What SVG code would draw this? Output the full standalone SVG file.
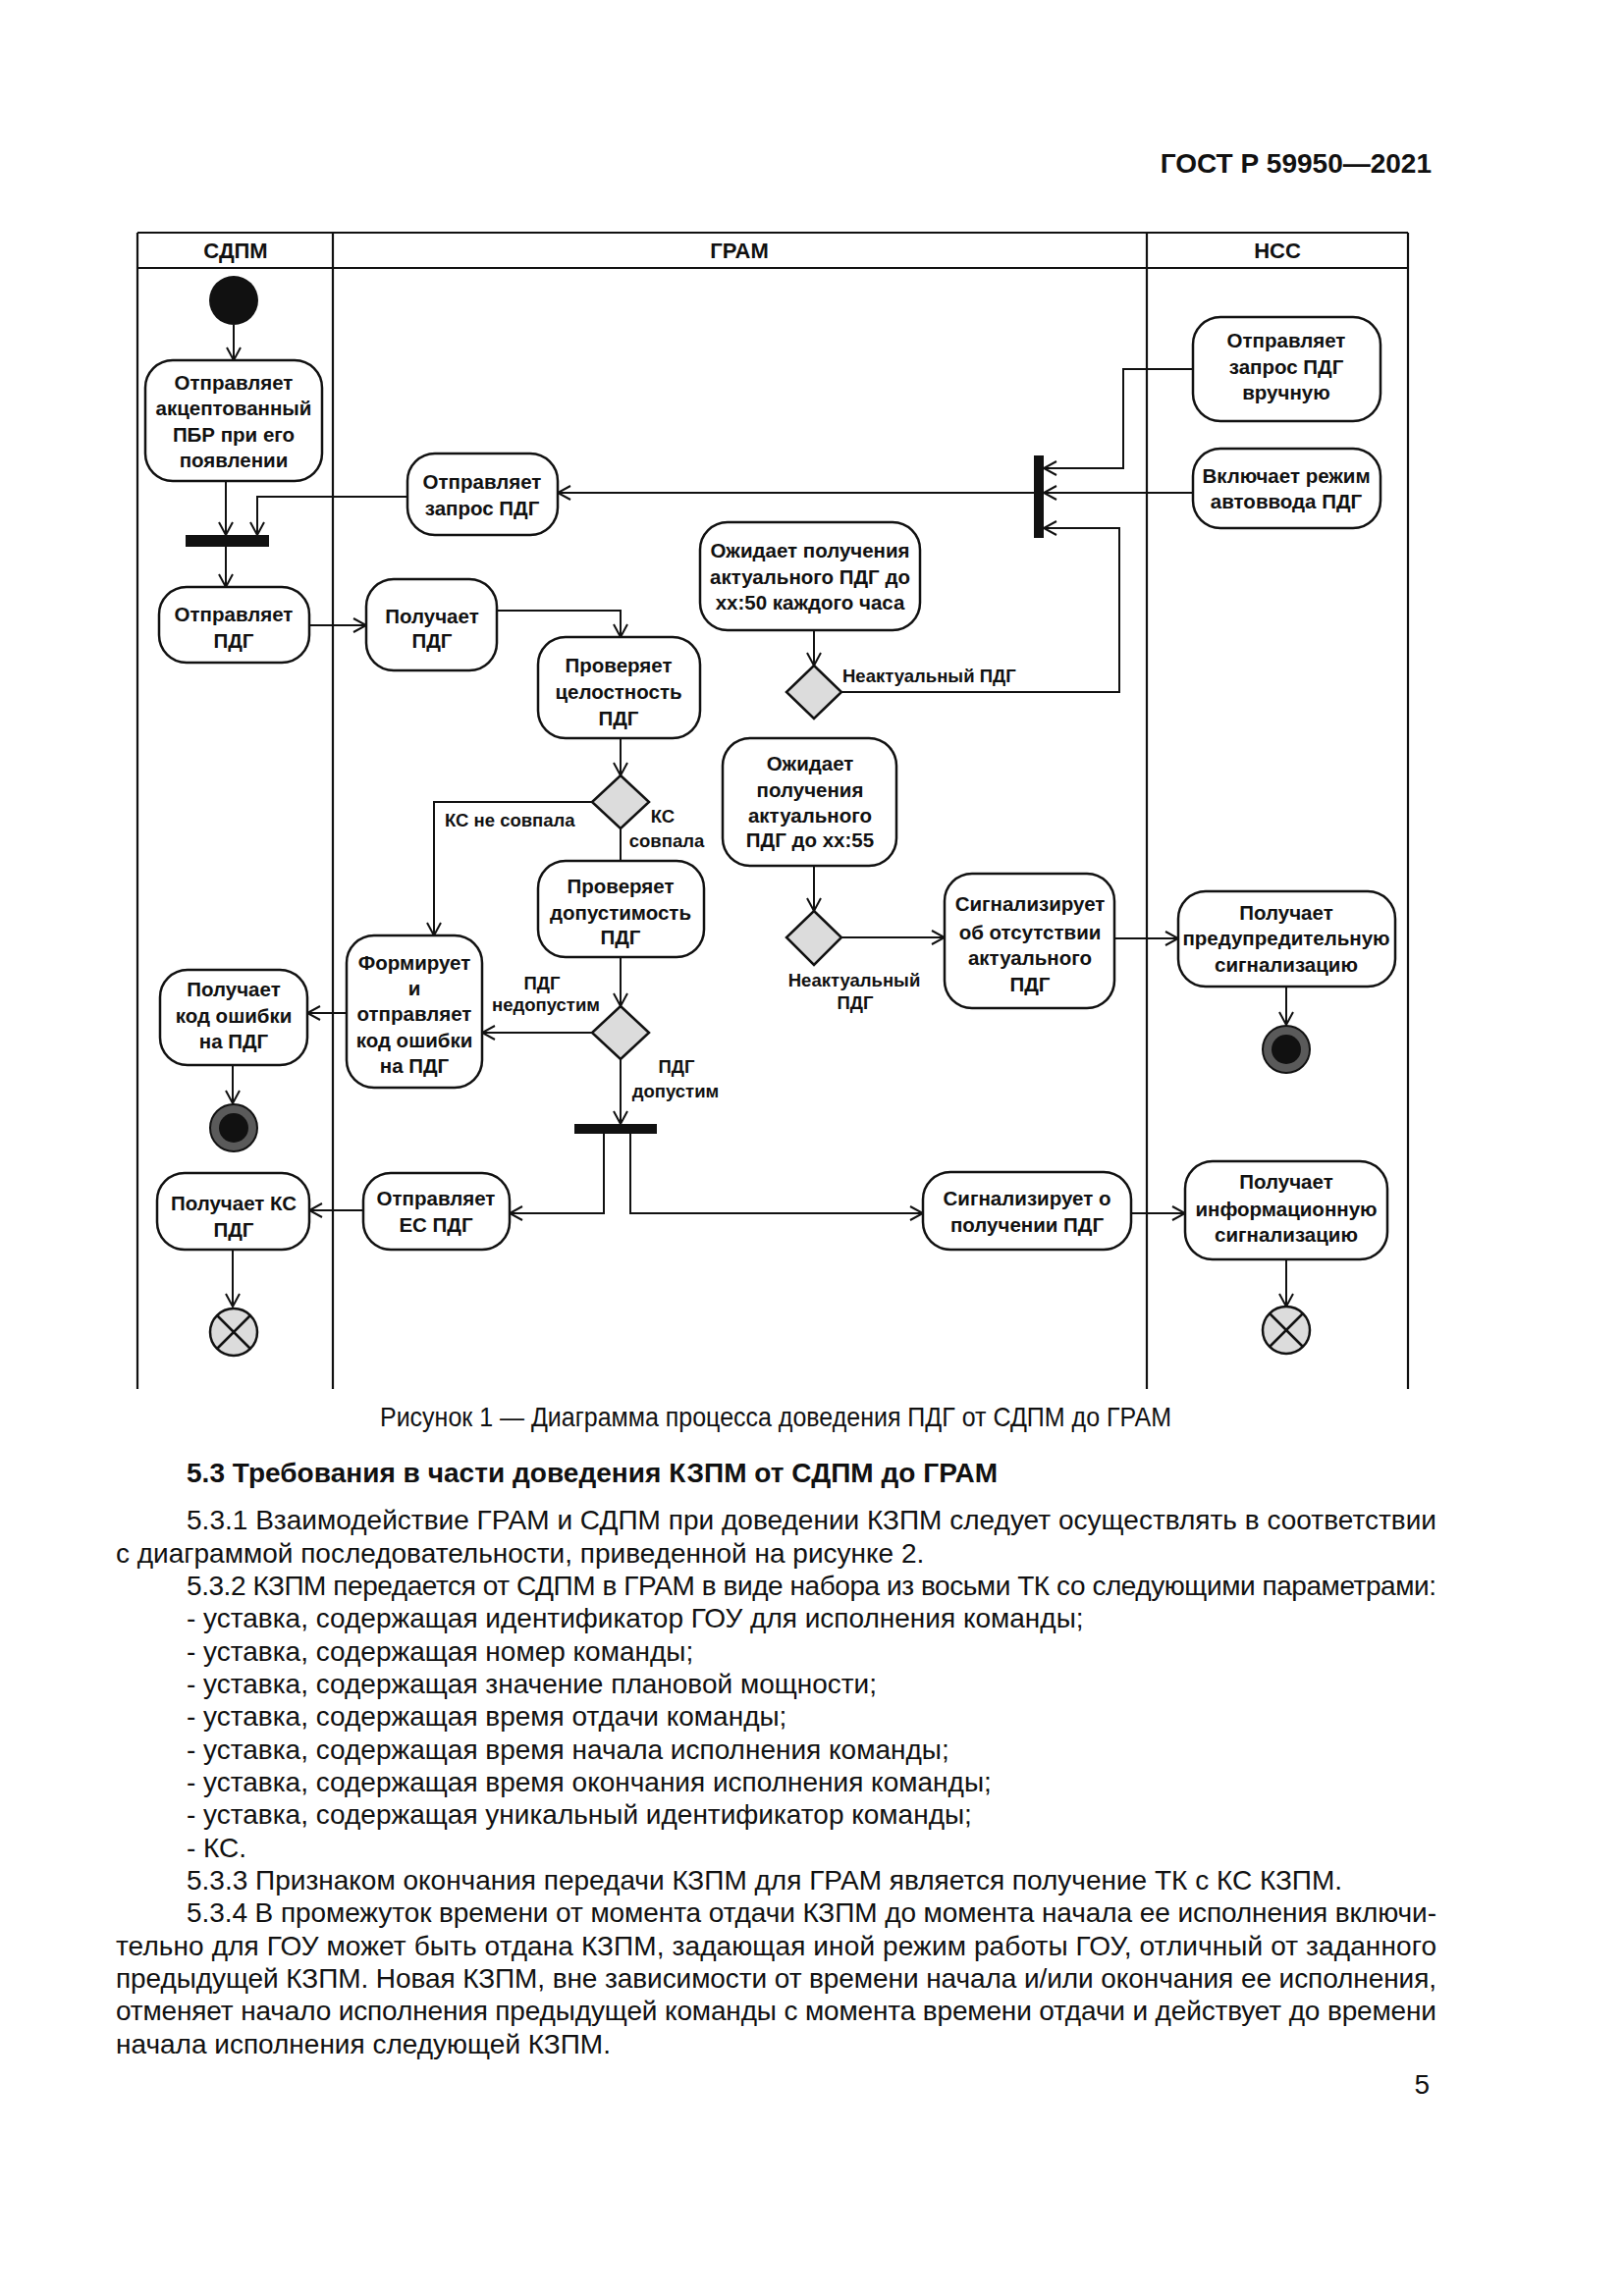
<svg xmlns="http://www.w3.org/2000/svg" width="1654" height="2339" viewBox="0 0 1654 2339">
<defs>
<marker id="arr" markerUnits="userSpaceOnUse" markerWidth="16" markerHeight="16" viewBox="0 0 16 16" refX="14" refY="8" orient="auto">
<path d="M1,1 L14,8 L1,15" fill="none" stroke="#111" stroke-width="2"/>
</marker>
</defs>
<style>
.lane{stroke:#111;stroke-width:2.2;fill:none}
.hd{font-family:"Liberation Sans",Arial,sans-serif;font-size:22px;font-weight:bold;fill:#111;text-anchor:middle}
.node rect.box{fill:#fff;stroke:#111;stroke-width:2.5}
.nt{font-family:"Liberation Sans",Arial,sans-serif;font-size:20.5px;font-weight:bold;fill:#111;text-anchor:middle}
.lb{font-family:"Liberation Sans",Arial,sans-serif;font-size:18.5px;font-weight:bold;fill:#111}
.c{fill:none;stroke:#111;stroke-width:2}
.ca{fill:none;stroke:#111;stroke-width:2;marker-end:url(#arr)}
.dia{fill:#dcdcdc;stroke:#111;stroke-width:2.5}
.bar{fill:#111}
.xf{fill:#dcdcdc;stroke:#111;stroke-width:2.5}
.xl{stroke:#111;stroke-width:2.5}
.body{font-family:"Liberation Sans",Arial,sans-serif;font-size:28px;fill:#111}
.bold{font-weight:bold}
</style>
<rect width="1654" height="2339" fill="#fff"/>

<text x="1458" y="176" class="body bold" text-anchor="end">ГОСТ Р 59950—2021</text>

<g id="lanes">
<line x1="140" y1="237" x2="1434" y2="237" class="lane"/>
<line x1="140" y1="273" x2="1434" y2="273" class="lane" stroke-width="3"/>
<line x1="140" y1="237" x2="140" y2="1415" class="lane"/>
<line x1="339" y1="237" x2="339" y2="1415" class="lane"/>
<line x1="1168" y1="237" x2="1168" y2="1415" class="lane"/>
<line x1="1434" y1="237" x2="1434" y2="1415" class="lane"/>
<text x="240" y="263" class="hd">СДПМ</text>
<text x="753" y="263" class="hd">ГРАМ</text>
<text x="1301" y="263" class="hd">НСС</text>
</g>

<g id="connectors">
<polyline points="238,331 238,367" class="ca"/>
<polyline points="230,490 230,545" class="ca"/>
<polyline points="415,506 262,506 262,545" class="ca"/>
<polyline points="230,557 230,598" class="ca"/>
<polyline points="315,637 373,637" class="ca"/>
<polyline points="506,622 632,622 632,649" class="ca"/>
<polyline points="1215,376 1144,376 1144,477 1063,477" class="ca"/>
<polyline points="1215,502 1063,502" class="ca"/>
<polyline points="1053,502 568,502" class="ca"/>
<polyline points="829,642 829,678" class="ca"/>
<polyline points="857,705 1140,705 1140,538 1063,538" class="ca"/>
<polyline points="632,752 632,790" class="ca"/>
<polyline points="603,817 442,817 442,953" class="ca"/>
<polyline points="632,844 632,877" class="c"/>
<polyline points="632,975 632,1025" class="ca"/>
<polyline points="603,1052 491,1052" class="ca"/>
<polyline points="353,1032 313,1032" class="ca"/>
<polyline points="237,1085 237,1124" class="ca"/>
<polyline points="632,1079 632,1145" class="ca"/>
<polyline points="615,1155 615,1236 519,1236" class="ca"/>
<polyline points="642,1155 642,1236 940,1236" class="ca"/>
<polyline points="370,1233 315,1233" class="ca"/>
<polyline points="237,1273 237,1331" class="ca"/>
<polyline points="1152,1236 1207,1236" class="ca"/>
<polyline points="1310,1283 1310,1331" class="ca"/>
<polyline points="829,882 829,928" class="ca"/>
<polyline points="857,955 962,955" class="ca"/>
<polyline points="1135,956 1200,956" class="ca"/>
<polyline points="1310,1005 1310,1044" class="ca"/>
<text x="858" y="695" class="lb">Неактуальный ПДГ</text>
<text x="453" y="842" class="lb">КС не совпала</text>
<text x="675" y="838" class="lb" text-anchor="middle">КС</text>
<text x="679" y="863" class="lb" text-anchor="middle">совпала</text>
<text x="552" y="1008" class="lb" text-anchor="middle">ПДГ</text>
<text x="556" y="1030" class="lb" text-anchor="middle">недопустим</text>
<text x="689" y="1093" class="lb" text-anchor="middle">ПДГ</text>
<text x="688" y="1118" class="lb" text-anchor="middle">допустим</text>
<text x="870" y="1005" class="lb" text-anchor="middle">Неактуальный</text>
<text x="871" y="1028" class="lb" text-anchor="middle">ПДГ</text>
</g>

<g id="start"><circle cx="238" cy="306" r="25" fill="#111"/></g>

<g id="n_send_accepted" class="node"><rect class="box" x="148" y="367" width="180" height="123" rx="28"/>
<text class="nt" x="238" y="397">Отправляет</text><text class="nt" x="238" y="423">акцептованный</text><text class="nt" x="238" y="450">ПБР при его</text><text class="nt" x="238" y="476">появлении</text></g>

<g id="fork1"><rect class="bar" x="189" y="545" width="85" height="12"/></g>

<g id="n_send_req" class="node"><rect class="box" x="415" y="462" width="153" height="83" rx="28"/>
<text class="nt" x="491" y="498">Отправляет</text><text class="nt" x="491" y="525">запрос ПДГ</text></g>

<g id="n_send_pdg" class="node"><rect class="box" x="162" y="598" width="153" height="77" rx="28"/>
<text class="nt" x="238" y="633">Отправляет</text><text class="nt" x="238" y="660">ПДГ</text></g>

<g id="n_recv_pdg" class="node"><rect class="box" x="373" y="590" width="133" height="93" rx="28"/>
<text class="nt" x="440" y="635">Получает</text><text class="nt" x="440" y="660">ПДГ</text></g>

<g id="n_check_integrity" class="node"><rect class="box" x="548" y="649" width="165" height="103" rx="28"/>
<text class="nt" x="630" y="685">Проверяет</text><text class="nt" x="630" y="712">целостность</text><text class="nt" x="630" y="739">ПДГ</text></g>

<g id="n_wait50" class="node"><rect class="box" x="713" y="532" width="224" height="110" rx="28"/>
<text class="nt" x="825" y="568">Ожидает получения</text><text class="nt" x="825" y="595">актуального ПДГ до</text><text class="nt" x="825" y="621">xx:50 каждого часа</text></g>

<g id="n_manual" class="node"><rect class="box" x="1215" y="323" width="191" height="106" rx="28"/>
<text class="nt" x="1310" y="354">Отправляет</text><text class="nt" x="1310" y="381">запрос ПДГ</text><text class="nt" x="1310" y="407">вручную</text></g>

<g id="n_auto" class="node"><rect class="box" x="1215" y="457" width="191" height="81" rx="28"/>
<text class="nt" x="1310" y="492">Включает режим</text><text class="nt" x="1310" y="518">автоввода ПДГ</text></g>

<g id="join_v"><rect class="bar" x="1053" y="464" width="10" height="84"/></g>

<g id="d_actual50"><polygon class="dia" points="829,678 857,705 829,732 801,705"/></g>

<g id="n_wait55" class="node"><rect class="box" x="736" y="752" width="177" height="130" rx="28"/>
<text class="nt" x="825" y="785">Ожидает</text><text class="nt" x="825" y="812">получения</text><text class="nt" x="825" y="838">актуального</text><text class="nt" x="825" y="863">ПДГ до xx:55</text></g>

<g id="d_actual55"><polygon class="dia" points="829,928 857,955 829,983 801,955"/></g>

<g id="n_signal_absent" class="node"><rect class="box" x="962" y="890" width="173" height="137" rx="28"/>
<text class="nt" x="1049" y="928">Сигнализирует</text><text class="nt" x="1049" y="957">об отсутствии</text><text class="nt" x="1049" y="983">актуального</text><text class="nt" x="1049" y="1010">ПДГ</text></g>

<g id="n_recv_warn" class="node"><rect class="box" x="1200" y="908" width="221" height="97" rx="28"/>
<text class="nt" x="1310" y="937">Получает</text><text class="nt" x="1310" y="963">предупредительную</text><text class="nt" x="1310" y="990">сигнализацию</text></g>

<g id="end_warn"><circle cx="1310" cy="1069" r="24" fill="#5a5a5a" stroke="#111" stroke-width="2"/><circle cx="1310" cy="1069" r="15" fill="#111"/></g>

<g id="d_crc"><polygon class="dia" points="632,790 661,817 632,844 603,817"/></g>

<g id="n_check_valid" class="node"><rect class="box" x="548" y="877" width="169" height="98" rx="28"/>
<text class="nt" x="632" y="910">Проверяет</text><text class="nt" x="632" y="937">допустимость</text><text class="nt" x="632" y="962">ПДГ</text></g>

<g id="d_valid"><polygon class="dia" points="632,1025 661,1052 632,1079 603,1052"/></g>

<g id="n_form_err" class="node"><rect class="box" x="353" y="953" width="138" height="155" rx="28"/>
<text class="nt" x="422" y="988">Формирует</text><text class="nt" x="422" y="1014">и</text><text class="nt" x="422" y="1040">отправляет</text><text class="nt" x="422" y="1067">код ошибки</text><text class="nt" x="422" y="1093">на ПДГ</text></g>

<g id="n_recv_err" class="node"><rect class="box" x="163" y="988" width="150" height="97" rx="28"/>
<text class="nt" x="238" y="1015">Получает</text><text class="nt" x="238" y="1042">код ошибки</text><text class="nt" x="238" y="1068">на ПДГ</text></g>

<g id="end_err"><circle cx="238" cy="1149" r="24" fill="#5a5a5a" stroke="#111" stroke-width="2"/><circle cx="238" cy="1149" r="15" fill="#111"/></g>

<g id="fork2"><rect class="bar" x="585" y="1145" width="84" height="10"/></g>

<g id="n_send_es" class="node"><rect class="box" x="370" y="1195" width="149" height="78" rx="28"/>
<text class="nt" x="444" y="1228">Отправляет</text><text class="nt" x="444" y="1255">ЕС ПДГ</text></g>

<g id="n_recv_ks" class="node"><rect class="box" x="160" y="1195" width="155" height="78" rx="28"/>
<text class="nt" x="238" y="1233">Получает КС</text><text class="nt" x="238" y="1260">ПДГ</text></g>

<g id="n_signal_recv" class="node"><rect class="box" x="940" y="1194" width="212" height="79" rx="28"/>
<text class="nt" x="1046" y="1228">Сигнализирует о</text><text class="nt" x="1046" y="1255">получении ПДГ</text></g>

<g id="n_recv_info" class="node"><rect class="box" x="1207" y="1183" width="206" height="100" rx="28"/>
<text class="nt" x="1310" y="1211">Получает</text><text class="nt" x="1310" y="1239">информационную</text><text class="nt" x="1310" y="1265">сигнализацию</text></g>

<g id="final_ks"><circle class="xf" cx="238" cy="1357" r="24"/><line class="xl" x1="221" y1="1340" x2="255" y2="1374"/><line class="xl" x1="255" y1="1340" x2="221" y2="1374"/></g>
<g id="final_info"><circle class="xf" cx="1310" cy="1355" r="24"/><line class="xl" x1="1293" y1="1338" x2="1327" y2="1372"/><line class="xl" x1="1327" y1="1338" x2="1293" y2="1372"/></g>

<text x="387" y="1453" class="body" font-size="22" textLength="806" lengthAdjust="spacingAndGlyphs">Рисунок 1 — Диаграмма процесса доведения ПДГ от СДПМ до ГРАМ</text>
<text x="190" y="1510" class="body bold" textLength="826" lengthAdjust="spacing">5.3 Требования в части доведения КЗПМ от СДПМ до ГРАМ</text>
<text x="190" y="1558" class="body" textLength="1273" lengthAdjust="spacing">5.3.1 Взаимодействие ГРАМ и СДПМ при доведении КЗПМ следует осуществлять в соответствии</text>
<text x="118" y="1592" class="body">с диаграммой последовательности, приведенной на рисунке 2.</text>
<text x="190" y="1625" class="body" textLength="1273" lengthAdjust="spacing">5.3.2 КЗПМ передается от СДПМ в ГРАМ в виде набора из восьми ТК со следующими параметрами:</text>
<text x="190" y="1658" class="body">- уставка, содержащая идентификатор ГОУ для исполнения команды;</text>
<text x="190" y="1692" class="body">- уставка, содержащая номер команды;</text>
<text x="190" y="1725" class="body">- уставка, содержащая значение плановой мощности;</text>
<text x="190" y="1758" class="body">- уставка, содержащая время отдачи команды;</text>
<text x="190" y="1792" class="body">- уставка, содержащая время начала исполнения команды;</text>
<text x="190" y="1825" class="body">- уставка, содержащая время окончания исполнения команды;</text>
<text x="190" y="1858" class="body">- уставка, содержащая уникальный идентификатор команды;</text>
<text x="190" y="1892" class="body">- КС.</text>
<text x="190" y="1925" class="body">5.3.3 Признаком окончания передачи КЗПМ для ГРАМ является получение ТК с КС КЗПМ.</text>
<text x="190" y="1958" class="body" textLength="1273" lengthAdjust="spacing">5.3.4 В промежуток времени от момента отдачи КЗПМ до момента начала ее исполнения включи-</text>
<text x="118" y="1992" class="body" textLength="1345" lengthAdjust="spacing">тельно для ГОУ может быть отдана КЗПМ, задающая иной режим работы ГОУ, отличный от заданного</text>
<text x="118" y="2025" class="body" textLength="1345" lengthAdjust="spacing">предыдущей КЗПМ. Новая КЗПМ, вне зависимости от времени начала и/или окончания ее исполнения,</text>
<text x="118" y="2058" class="body" textLength="1345" lengthAdjust="spacing">отменяет начало исполнения предыдущей команды с момента времени отдачи и действует до времени</text>
<text x="118" y="2092" class="body">начала исполнения следующей КЗПМ.</text>
<text x="1456" y="2133" class="body" text-anchor="end">5</text>
</svg>
